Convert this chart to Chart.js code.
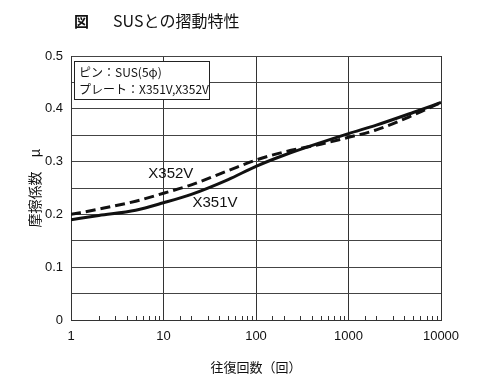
<!DOCTYPE html>
<html>
<head>
<meta charset="utf-8">
<script src="https://cdn.jsdelivr.net/npm/chart.js@4"></script>
<style>
  body { margin: 0; background: #fff; }
  #wrap { width: 500px; height: 392px; }
</style>
</head>
<body>
<div id="wrap"><canvas id="c"></canvas></div>
<script>
// 往復回数 (log)
const cycles = [1, 2, 5, 10, 20, 50, 100, 200, 500, 1000, 2000, 5000, 10000];
const x351v = [0.190, 0.198, 0.208, 0.222, 0.238, 0.266, 0.291, 0.312, 0.336, 0.353, 0.369, 0.393, 0.412];
const x352v = [0.200, 0.210, 0.225, 0.240, 0.256, 0.283, 0.303, 0.318, 0.333, 0.346, 0.360, 0.388, 0.412];
const xTickLabels = [1, 10, 100, 1000, 10000];
const seriesNames = ['X351V', 'X352V'];
// series label anchor points (cycles, mu)
const labelAt = [[36, 0.222], [12, 0.277]];

const JP = '"Noto Sans CJK JP", sans-serif';
const LAT = '"Liberation Sans", Arial, sans-serif';

const extras = {
  id: 'extras',
  afterDraw(chart) {
    const {ctx, chartArea: a, scales: {x, y}} = chart;
    ctx.save();
    // minor ticks on bottom axis
    ctx.strokeStyle = '#333';
    ctx.lineWidth = 1;
    x.ticks.forEach(t => {
      if (xTickLabels.includes(t.value)) return;
      const px = Math.round(x.getPixelForValue(t.value)) + 0.5;
      ctx.beginPath();
      ctx.moveTo(px, a.bottom);
      ctx.lineTo(px, a.bottom - 4);
      ctx.stroke();
    });
    // title
    ctx.fillStyle = '#111';
    ctx.textBaseline = 'middle';
    ctx.font = 'bold 15px ' + JP;
    ctx.fillText('図', 74, 21);
    ctx.font = '16px ' + JP;
    ctx.fillText('SUSとの摺動特性', 113, 21);
    // note box
    ctx.font = '12px ' + JP;
    const bx = a.left + 3, by = a.top + 5;
    ctx.fillStyle = '#fff';
    ctx.fillRect(bx, by, 135, 38);
    ctx.strokeStyle = '#222';
    ctx.strokeRect(bx + 0.5, by + 0.5, 135, 38);
    ctx.fillStyle = '#111';
    ctx.fillText('ピン：SUS(5φ)', bx + 5, by + 11);
    ctx.fillText('プレート：X351V,X352V', bx + 5, by + 28);
    // series labels
    ctx.font = '15px ' + LAT;
    ctx.textAlign = 'center';
    seriesNames.forEach((n, i) => {
      ctx.fillText(n, x.getPixelForValue(labelAt[i][0]), y.getPixelForValue(labelAt[i][1]));
    });
    ctx.restore();
  }
};

new Chart(document.getElementById('c'), {
  type: 'line',
  data: {
    labels: cycles,
    datasets: [
      {
        label: seriesNames[0],
        data: cycles.map((c, i) => ({x: c, y: x351v[i]})),
        borderColor: '#111',
        borderWidth: 3,
        pointRadius: 0,
        cubicInterpolationMode: 'monotone',
      },
      {
        label: seriesNames[1],
        data: cycles.map((c, i) => ({x: c, y: x352v[i]})),
        borderColor: '#111',
        borderWidth: 3,
        borderDash: [10, 5],
        pointRadius: 0,
        cubicInterpolationMode: 'monotone',
      },
    ],
  },
  options: {
    responsive: true,
    maintainAspectRatio: false,
    animation: false,
    layout: {padding: {top: 56, right: 59, left: 22, bottom: 0}},
    plugins: {
      legend: {display: false},
      tooltip: {enabled: false},
    },
    scales: {
      x: {
        type: 'logarithmic',
        min: 1,
        max: 10000,
        afterFit: s => { s.height = 72; },
        border: {color: '#333', width: 1},
        grid: {
          color: c => xTickLabels.includes(c.tick.value) ? '#333' : 'rgba(0,0,0,0)',
          drawTicks: false,
        },
        ticks: {
          autoSkip: false,
          maxRotation: 0,
          padding: 9,
          color: '#111',
          font: {family: LAT, size: 13},
          callback: v => xTickLabels.includes(v) ? String(v) : '',
        },
        title: {
          display: true,
          text: '往復回数（回）',
          color: '#111',
          font: {family: JP, size: 13},
          padding: {top: 0, bottom: 17},
        },
      },
      y: {
        min: 0,
        max: 0.5,
        afterFit: s => { s.width = 49; },
        border: {color: '#333', width: 1},
        grid: {color: '#444', drawTicks: false},
        ticks: {
          stepSize: 0.05,
          padding: 8,
          color: '#111',
          font: {family: LAT, size: 13},
          callback: v => {
            const r = Math.round(v * 100);
            return r % 10 === 0 ? (r === 0 ? '0' : (r / 100).toFixed(1)) : '';
          },
        },
        title: {
          display: true,
          text: '摩擦係数　μ',
          color: '#111',
          font: {family: JP, size: 14},
          padding: {bottom: 10},
        },
      },
    },
  },
  plugins: [extras],
});
</script>
</body>
</html>
